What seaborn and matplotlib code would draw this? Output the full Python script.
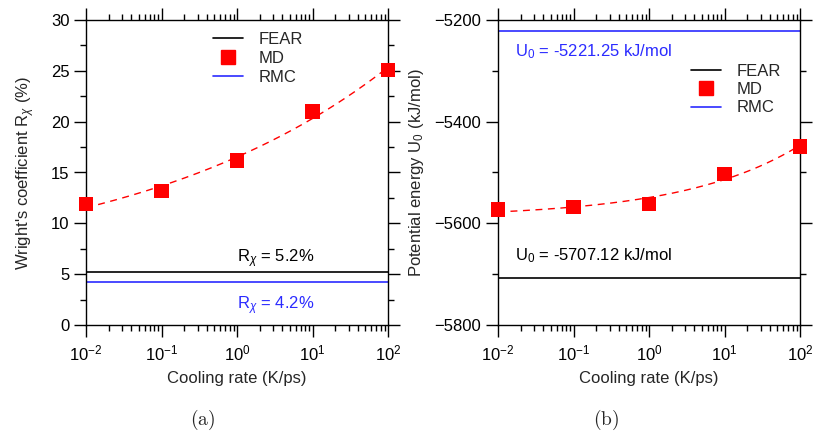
import numpy as np
import pandas as pd
import matplotlib
matplotlib.use("Agg")
import matplotlib.pyplot as plt
import seaborn as sns
from matplotlib.lines import Line2D
from matplotlib.ticker import LogLocator, MultipleLocator, NullFormatter

# Cooling rates (K/ps) and MD results
cooling_rate = [0.01, 0.1, 1.0, 10.0, 100.0]
md_rchi = [11.9, 13.2, 16.2, 21.0, 25.1]            # Wright's coefficient (%)
md_u0 = [-5573.0, -5568.0, -5562.0, -5503.0, -5449.0]  # potential energy (kJ/mol)

# Reference values
fear_rchi = 5.2
rmc_rchi = 4.2
fear_u0 = -5707.12
rmc_u0 = -5221.25

sns.set_style("ticks")
plt.rcParams["font.family"] = ["Liberation Sans", "DejaVu Sans"]
plt.rcParams["mathtext.fontset"] = "custom"
plt.rcParams["mathtext.rm"] = "Liberation Sans"
plt.rcParams["mathtext.it"] = "Liberation Sans:italic"
plt.rcParams["mathtext.sf"] = "Liberation Sans"
plt.rcParams["font.size"] = 12

RED = "#ff0000"
BLUE = "#2b2bff"

fig = plt.figure(figsize=(8.15, 4.36), dpi=100)
ax1 = fig.add_axes([86 / 815, 1 - 325 / 436, (388 - 86) / 815, 305 / 436])
ax2 = fig.add_axes([498 / 815, 1 - 325 / 436, (800 - 498) / 815, 305 / 436])

df = pd.DataFrame({"rate": cooling_rate, "rchi": md_rchi, "u0": md_u0})


def fit_curve(x, y):
    """Least-squares fit of y = a + b * x**p (p scanned on a grid)."""
    best = None
    for p in np.linspace(0.02, 1.0, 491):
        A = np.column_stack([np.ones_like(x), x ** p])
        coef, *_ = np.linalg.lstsq(A, y, rcond=None)
        err = np.sum((A @ coef - y) ** 2)
        if best is None or err < best[0]:
            best = (err, p, coef)
    _, p, (a, b) = best
    xs = np.logspace(np.log10(x.min()), np.log10(x.max()), 300)
    return pd.DataFrame({"rate": xs, "val": a + b * xs ** p})


def style_axis(ax):
    ax.set_xscale("log")
    ax.set_xlim(0.01, 100)
    ax.xaxis.set_major_locator(LogLocator(base=10, numticks=10))
    ax.xaxis.set_minor_locator(LogLocator(base=10, subs=np.arange(2, 10), numticks=10))
    ax.xaxis.set_minor_formatter(NullFormatter())
    for s in ax.spines.values():
        s.set_visible(True)
        s.set_linewidth(1.0)
        s.set_color("black")
    ax.tick_params(which="both", direction="out", top=True, right=True,
                   colors="black", labelsize=12, width=1.0)
    ax.tick_params(which="major", length=8.5)
    ax.tick_params(which="minor", length=4.5)
    ax.tick_params(axis="x", pad=5)
    ax.set_xlabel("Cooling rate (K/ps)", fontsize=12, labelpad=5)
    ax.grid(False)


handles = [
    Line2D([], [], color="black", lw=1.2),
    Line2D([], [], color=RED, marker="s", ms=10, lw=0),
    Line2D([], [], color=BLUE, lw=1.2),
]
labels = ["FEAR", "MD", "RMC"]

# Panel (a): Wright's coefficient
fa = fit_curve(np.array(cooling_rate), np.array(md_rchi))
sns.lineplot(data=fa, x="rate", y="val", ax=ax1, color=RED, lw=1.0, linestyle="--")
ax1.lines[-1].set_dashes((5, 4))
sns.scatterplot(data=df, x="rate", y="rchi", ax=ax1, color=RED, marker="s",
                s=110, edgecolor="none", zorder=5, clip_on=False)
ax1.axhline(fear_rchi, color="black", lw=1.2)
ax1.axhline(rmc_rchi, color=BLUE, lw=1.2)
style_axis(ax1)
ax1.set_ylim(0, 30)
ax1.yaxis.set_major_locator(MultipleLocator(5))
ax1.yaxis.set_minor_locator(MultipleLocator(2.5))
ax1.set_ylabel(r"Wright's coefficient R$_{\chi}$ (%)", fontsize=12, labelpad=10)
ax1.text(1.0, 6.2, r"R$_{\chi}$ = 5.2%", color="black", fontsize=12, ha="left")
ax1.text(1.0, 1.5, r"R$_{\chi}$ = 4.2%", color=BLUE, fontsize=12, ha="left")
ax1.legend(handles, labels, loc="upper center", bbox_to_anchor=(0.57, 1.0),
           frameon=False, fontsize=12, handlelength=1.8, handletextpad=0.9,
           labelspacing=0.25, borderaxespad=0.3)

# Panel (b): potential energy
fb = fit_curve(np.array(cooling_rate), np.array(md_u0))
sns.lineplot(data=fb, x="rate", y="val", ax=ax2, color=RED, lw=1.0, linestyle="--")
ax2.lines[-1].set_dashes((5, 4))
sns.scatterplot(data=df, x="rate", y="u0", ax=ax2, color=RED, marker="s",
                s=110, edgecolor="none", zorder=5, clip_on=False)
ax2.axhline(fear_u0, color="black", lw=1.2)
ax2.axhline(rmc_u0, color=BLUE, lw=1.2)
style_axis(ax2)
ax2.set_ylim(-5800, -5200)
ax2.yaxis.set_major_locator(MultipleLocator(200))
ax2.yaxis.set_minor_locator(MultipleLocator(100))
ax2.set_ylabel(r"Potential energy U$_{0}$ (kJ/mol)", fontsize=12, labelpad=6)
ax2.text(0.017, -5272, r"U$_{0}$ = -5221.25 kJ/mol", color=BLUE, fontsize=12)
ax2.text(0.017, -5672, r"U$_{0}$ = -5707.12 kJ/mol", color="black", fontsize=12)
ax2.legend(handles, labels, loc="upper right", bbox_to_anchor=(0.975, 0.895),
           frameon=False, fontsize=12, handlelength=1.8, handletextpad=0.9,
           labelspacing=0.2, borderaxespad=0.3)

# Panel captions
fig.text(203 / 815, 1 - 420 / 436, r"$\mathrm{(a)}$", ha="center", va="center",
         fontsize=14, math_fontfamily="cm")
fig.text(606 / 815, 1 - 420 / 436, r"$\mathrm{(b)}$", ha="center", va="center",
         fontsize=14, math_fontfamily="cm")

fig.savefig("out.png", dpi=100)
